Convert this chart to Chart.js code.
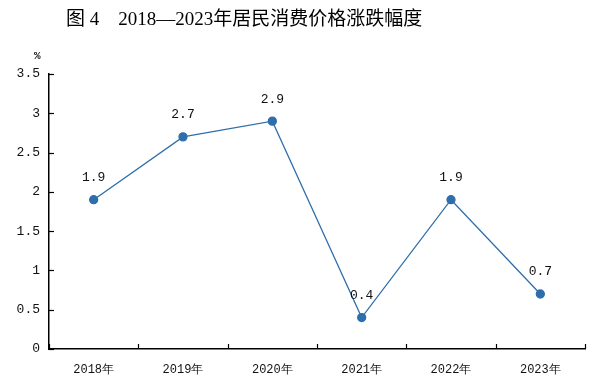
<!DOCTYPE html>
<html><head><meta charset="utf-8">
<script src="https://cdn.jsdelivr.net/npm/chart.js@4/dist/chart.umd.min.js"></script>
<style>
html,body{margin:0;padding:0;background:#fff;}
#wrap{position:relative;width:600px;height:385px;}
#title{position:absolute;left:66px;top:3px;white-space:nowrap;font-family:"Liberation Serif","Noto Sans CJK SC",serif;font-size:19px;color:#000;}
#unit{position:absolute;left:34px;top:50px;font-family:"Liberation Mono",monospace;font-size:11px;font-weight:bold;color:#111;}
canvas{position:absolute;left:0;top:0;}
</style></head>
<body>
<div id="wrap">
<canvas id="c" width="600" height="385"></canvas>
<div id="title">图 4&nbsp;&nbsp;&nbsp;&nbsp;2018—2023年居民消费价格涨跌幅度</div>
<div id="unit">%</div>
</div>
<script>
const categories = ["2018年","2019年","2020年","2021年","2022年","2023年"];
const cpiValues = [1.9, 2.7, 2.9, 0.4, 1.9, 0.7];
const yTicks = [0, 0.5, 1, 1.5, 2, 2.5, 3, 3.5];

const lineColor = "#2f6eac";

const inwardTicks = {
  id: "inwardTicks",
  afterDraw(chart) {
    const ctx = chart.ctx;
    const x = chart.scales.x, y = chart.scales.y;
    const area = chart.chartArea;
    ctx.save();
    ctx.strokeStyle = "#000";
    ctx.lineWidth = 1.2;
    yTicks.forEach(v => {
      const py = Math.round(y.getPixelForValue(v)) + 0.5;
      ctx.beginPath();
      ctx.moveTo(area.left, py);
      ctx.lineTo(area.left + 5, py);
      ctx.stroke();
    });
    for (let i = 0; i <= categories.length; i++) {
      const px = Math.round(x.getPixelForValue(i - 0.5)) + 0.5;
      ctx.beginPath();
      ctx.moveTo(px, area.bottom);
      ctx.lineTo(px, area.bottom - 5);
      ctx.stroke();
    }
    ctx.restore();
  }
};

const dataLabels = {
  id: "dataLabels",
  afterDatasetsDraw(chart) {
    const ctx = chart.ctx;
    const meta = chart.getDatasetMeta(0);
    ctx.save();
    ctx.fillStyle = "#111";
    ctx.font = "13px 'Liberation Mono', monospace";
    ctx.textAlign = "center";
    ctx.textBaseline = "middle";
    meta.data.forEach((pt, i) => {
      ctx.fillText(cpiValues[i].toFixed(1), pt.x, pt.y - 22);
    });
    ctx.restore();
  }
};

new Chart(document.getElementById("c"), {
  type: "line",
  data: {
    labels: categories,
    datasets: [{
      data: cpiValues,
      borderColor: lineColor,
      backgroundColor: lineColor,
      borderWidth: 1.3,
      pointRadius: 4,
      pointHoverRadius: 4,
      pointBackgroundColor: lineColor,
      pointBorderColor: lineColor,
      tension: 0
    }]
  },
  options: {
    responsive: false,
    animation: false,
    events: [],
    layout: { padding: { top: 74, right: 15, left: 0, bottom: 0 } },
    plugins: { legend: { display: false }, tooltip: { enabled: false }, title: { display: false } },
    scales: {
      x: {
        offset: true,
        grid: { display: false, drawTicks: false },
        border: { display: true, color: "#000", width: 1.5 },
        ticks: { color: "#111", font: { family: "'Liberation Mono', monospace", size: 12 }, padding: 14, maxRotation: 0 },
        afterFit(s) { s.height = 36; }
      },
      y: {
        min: 0, max: 3.5,
        grid: { display: false, drawTicks: false },
        border: { display: true, color: "#000", width: 1.5 },
        ticks: {
          stepSize: 0.5,
          color: "#111",
          font: { family: "'Liberation Mono', monospace", size: 13 },
          padding: 9,
          callback: v => String(v)
        },
        afterFit(s) { s.width = 49; }
      }
    }
  },
  plugins: [inwardTicks, dataLabels]
});
</script>
</body></html>
